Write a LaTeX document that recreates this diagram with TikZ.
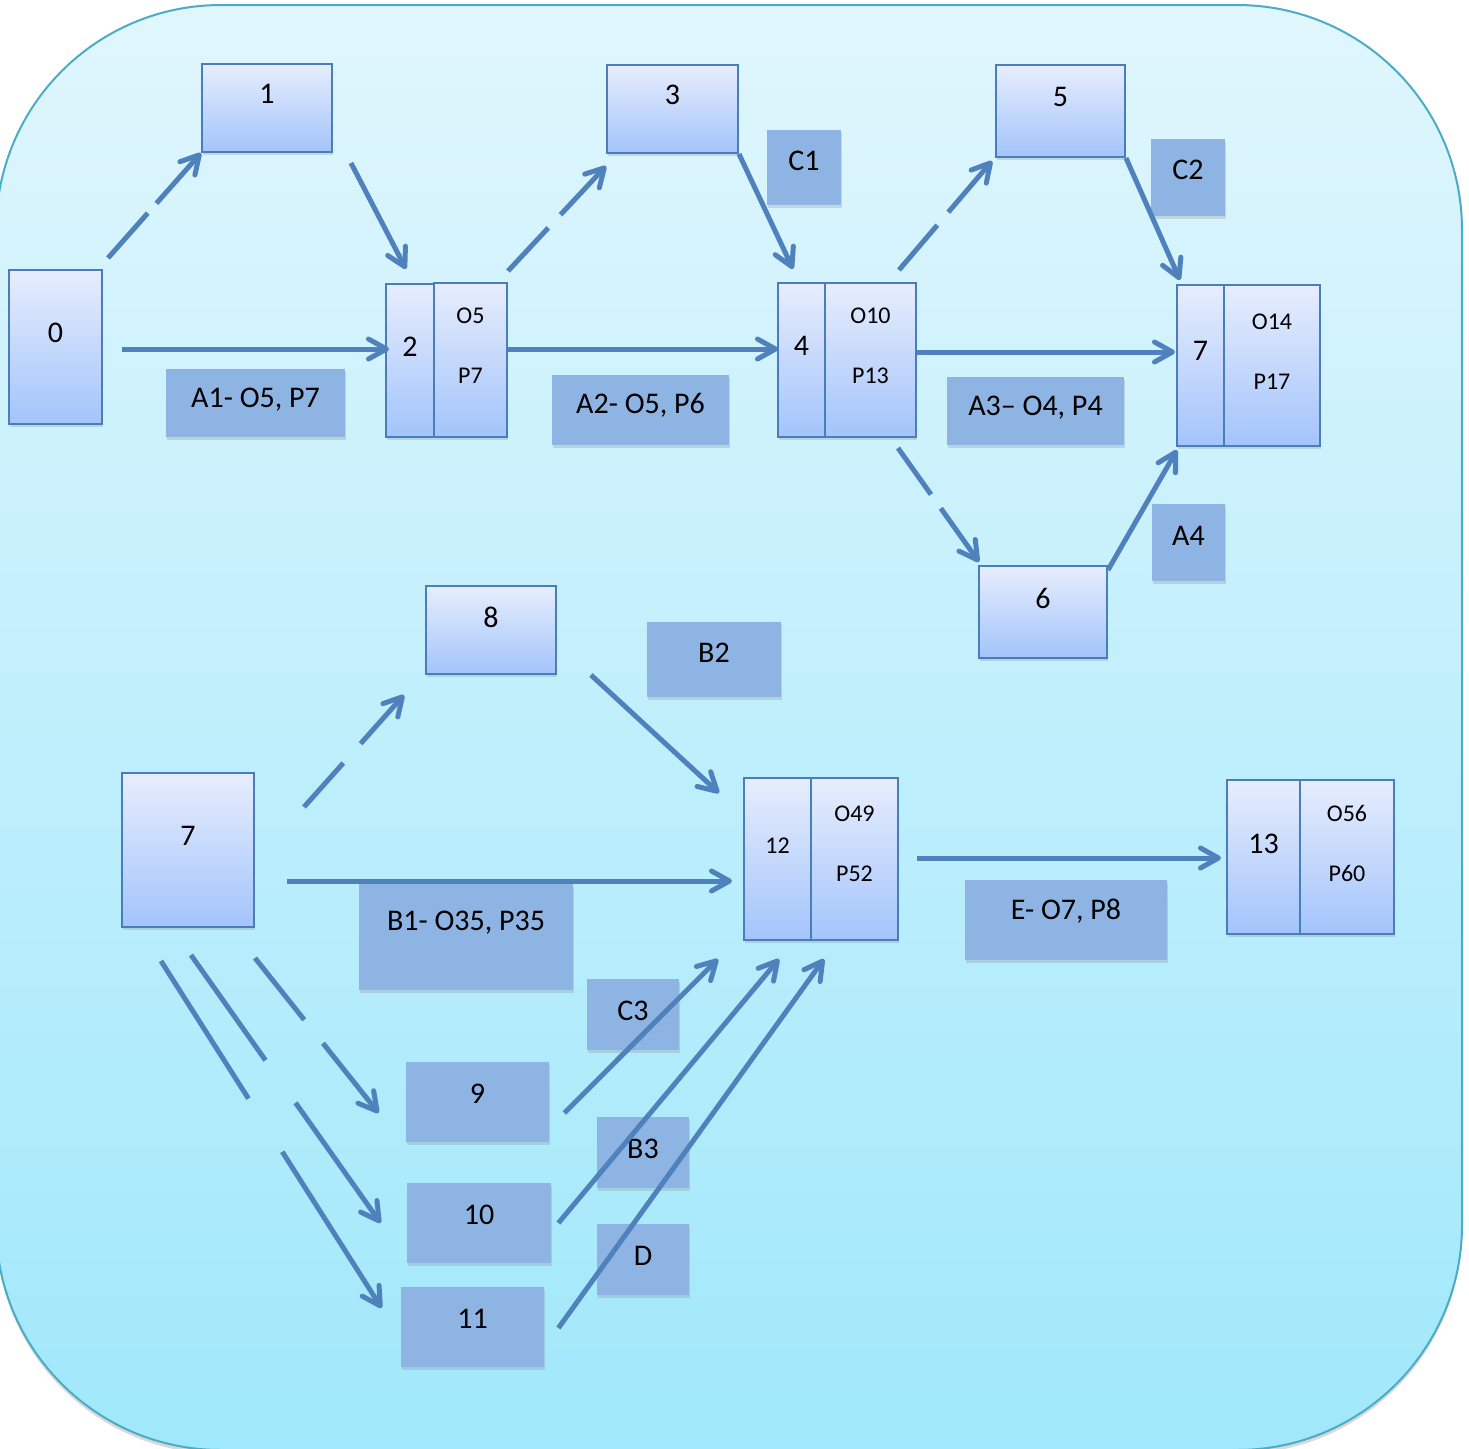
\documentclass[tikz,border=0pt]{standalone}
\usepackage{fontspec}
\setmainfont{Carlito}
\usetikzlibrary{arrows.meta,shadows}

\definecolor{bgtop}{RGB}{224,246,253}
\definecolor{bgbot}{RGB}{160,232,251}
\definecolor{bgline}{RGB}{75,172,198}
\definecolor{boxtop}{RGB}{231,237,253}
\definecolor{boxbot}{RGB}{163,196,251}
\definecolor{boxline}{RGB}{74,126,187}
\definecolor{lblfill}{RGB}{142,180,227}
\definecolor{arrcol}{RGB}{79,129,189}

\begin{document}
\begin{tikzpicture}[x=0.5pt, y=-0.5pt,
  shd/.style={drop shadow={shadow xshift=0.5pt, shadow yshift=-1.5pt, opacity=0.25}},
  gbox/.style={draw=boxline, line width=1pt, top color=boxtop, bottom color=boxbot, inner sep=0pt, shd},
  lbox/.style={fill=lblfill, inner sep=0pt, shd},
  sz/.style 2 args={minimum width=#1, minimum height=#2},
  txt/.style={anchor=center, inner sep=0pt, font=\fontsize{15}{18}\selectfont},
  lab/.style 2 args={label={[txt, yshift=-#1-1pt]above:#2}},
  slab/.style 2 args={label={[txt, align=center, font=\fontsize{12}{30}\selectfont, yshift=-#1-1pt]above:#2}},
  arr/.style={draw=arrcol, line width=2.5pt, -{Straight Barb[length=9pt, width=10pt, round]}},
  dsh/.style 2 args={dash pattern=on #1 off #2 on 400pt off 1pt}]

  \useasboundingbox (0,0) rectangle (1469,1448);
  \path[top color=bgtop, bottom color=bgbot, draw=bgline, line width=1pt, rounded corners=112.5pt,
        drop shadow={shadow xshift=0pt, shadow yshift=-2pt, opacity=0.3}] (-4,5) rectangle (1462,1450);

  % upper network
  \node[gbox, sz={46.5pt}{77pt}, lab={31pt}{0}] (n0) at (55.5,347) {};
  \node[gbox, sz={65pt}{44pt}, lab={14.5pt}{1}] (n1) at (267,108) {};
  \node[gbox, sz={24pt}{76.5pt}, lab={31pt}{2}] (n2) at (410,360.5) {};
  \node[gbox, sz={36.5pt}{77pt}, slab={31pt}{O5\\P7}] (n2r) at (470.5,360) {};
  \node[gbox, sz={65.5pt}{44pt}, lab={14.5pt}{3}] (n3) at (672.5,109) {};
  \node[gbox, sz={23.5pt}{77pt}, lab={31pt}{4}] (n4) at (801.5,360) {};
  \node[gbox, sz={45.5pt}{77pt}, slab={31pt}{O10\\P13}] (n4r) at (870.5,360) {};
  \node[gbox, sz={64.5pt}{46pt}, lab={15.5pt}{5}] (n5) at (1060.5,111) {};
  \node[gbox, sz={64pt}{46pt}, lab={15.5pt}{6}] (n6) at (1043,612) {};
  \node[gbox, sz={23.5pt}{80.5pt}, lab={32.5pt}{7}] (n7) at (1200.5,365.5) {};
  \node[gbox, sz={48pt}{80.5pt}, slab={33pt}{O14\\P17}] (n7r) at (1272,365.5) {};

  \node[lbox, sz={89.5pt}{34pt}, lab={14.5pt}{A1- O5, P7}] (actA1) at (255.5,403) {};
  \node[lbox, sz={88.5pt}{35pt}, lab={14.5pt}{A2- O5, P6}] (actA2) at (640.5,410) {};
  \node[lbox, sz={88.5pt}{34pt}, lab={14.5pt}{A3– O4, P4}] (actA3) at (1035.5,411) {};
  \node[lbox, sz={36.5pt}{38.5pt}, lab={15pt}{A4}] (actA4) at (1188.5,542.5) {};
  \node[lbox, sz={37pt}{37.5pt}, lab={14.5pt}{C1}] (actC1) at (804,167.5) {};
  \node[lbox, sz={37pt}{38.5pt}, lab={14.5pt}{C2}] (actC2) at (1188,177.5) {};

  % lower network
  \node[gbox, sz={66pt}{77pt}, lab={31pt}{7}] (n7b) at (188,850) {};
  \node[gbox, sz={65pt}{44pt}, lab={15pt}{8}] (n8) at (491,630) {};
  \node[gbox, sz={33.5pt}{81pt}, slab={33.5pt}{12}] (n12) at (777.5,859) {};
  \node[gbox, sz={43.5pt}{81pt}, slab={32.5pt}{O49\\P52}] (n12r) at (854.5,859) {};
  \node[gbox, sz={36.5pt}{77pt}, lab={31.5pt}{13}] (n13) at (1263.5,857) {};
  \node[gbox, sz={47pt}{77pt}, slab={31pt}{O56\\P60}] (n13r) at (1347,857) {};
  \node[lbox, sz={71.5pt}{40pt}, lab={15pt}{9}] (n9) at (477.5,1102) {};
  \node[lbox, sz={72pt}{40pt}, lab={15pt}{10}] (n10) at (479,1223) {};
  \node[lbox, sz={71.5pt}{40pt}, lab={15pt}{11}] (n11) at (472.5,1327) {};

  \node[lbox, sz={67pt}{37.5pt}, lab={14.5pt}{B2}] (actB2) at (714,659.5) {};
  \node[lbox, sz={107pt}{53pt}, lab={18.5pt}{B1- O35, P35}] (actB1) at (466,937) {};
  \node[lbox, sz={101pt}{40pt}, lab={15pt}{E- O7, P8}] (actE) at (1066,920) {};
  \node[lbox, sz={46pt}{35.5pt}, lab={15pt}{C3}] (actC3) at (633,1014.5) {};
  \node[lbox, sz={46pt}{35.5pt}, lab={15pt}{B3}] (actB3) at (643,1152.5) {};
  \node[lbox, sz={46pt}{35.5pt}, lab={15pt}{D}] (actD) at (643,1259.5) {};

  % arrows, upper
  \draw[arr, dsh={30pt}{6.5pt}] ([shift={(5,-11)}]n0.north east) -- (n1.south west);
  \draw[arr] ([shift={(18,10)}]n1.south east) -- ([shift={(-4,-14)}]n2.north);
  \draw[arr] ([shift={(19,2)}]n0.east) -- ([shift={(4,-11.5)}]n2.west);
  \draw[arr, dsh={29.5pt}{9pt}] ([shift={(0,-11)}]n2r.north east) -- ([shift={(0,12)}]n3.south west);
  \draw[arr] (n3.south east) -- ([shift={(-8.5,-13)}]n4.north);
  \draw[arr] ([shift={(0,-11)}]n2r.east) -- ([shift={(1,-11)}]n4.west);
  \draw[arr, dsh={29.5pt}{8.5pt}] ([shift={(-18,-12)}]n4r.north east) -- ([shift={(-3,3)}]n5.south west);
  \draw[arr] (n5.south east) -- ([shift={(4,-4)}]n7.north west);
  \draw[arr] ([shift={(0,-8)}]n4r.east) -- ([shift={(-1,-13.5)}]n7.west);
  \draw[arr, dsh={28.5pt}{8.5pt}] ([shift={(27.5,10)}]n4r.south) -- ([shift={(1,-3)}]n6.north west);
  \draw[arr] ([shift={(0,5)}]n6.north east) -- ([shift={(1,3)}]n7.south west);

  % arrows, lower
  \draw[arr, dsh={29.5pt}{13pt}] ([shift={(49,35)}]n7b.north east) -- ([shift={(-21,20)}]n8.south west);
  \draw[arr] ([shift={(32,31)}]n7b.east) -- ([shift={(-11,22)}]n12.west);
  \draw[arr] ([shift={(34,0)}]n8.south east) -- ([shift={(-24,16)}]n12.north west);
  \draw[arr, dsh={39.5pt}{15pt}] ([shift={(0,30)}]n7b.south east) -- ([shift={(-27,11)}]n9.west);
  \draw[arr, dsh={64.5pt}{26pt}] ([shift={(3,27)}]n7b.south) -- ([shift={(-26,0)}]n10.west);
  \draw[arr, dsh={81.5pt}{31.5pt}] ([shift={(40,33)}]n7b.south west) -- ([shift={(-19,-19)}]n11.west);
  \draw[arr] ([shift={(15,11)}]n9.east) -- ([shift={(-59.5,18)}]n12.south);
  \draw[arr] ([shift={(7,0)}]n10.east) -- ([shift={(1.5,18)}]n12.south);
  \draw[arr] ([shift={(14,1)}]n11.east) -- ([shift={(-30.5,18)}]n12r.south);
  \draw[arr] ([shift={(18,-1)}]n12r.east) -- ([shift={(-5,1)}]n13.west);

\end{tikzpicture}
\end{document}
